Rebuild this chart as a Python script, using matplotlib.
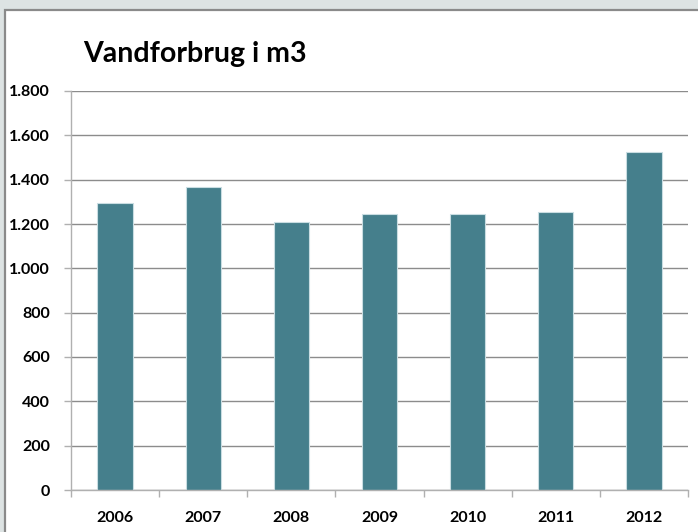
import matplotlib.pyplot as plt
from matplotlib.patches import Rectangle
from matplotlib.ticker import FixedLocator

# water use per year
years = ['2006', '2007', '2008', '2009', '2010', '2011', '2012']
water_m3 = [1294, 1365, 1208, 1247, 1247, 1252, 1526]
y_ticks = [0, 200, 400, 600, 800, 1000, 1200, 1400, 1600, 1800]
y_tick_labels = ['0', '200', '400', '600', '800', '1.000', '1.200', '1.400', '1.600', '1.800']

plt.rcParams['font.family'] = ['Lato', 'DejaVu Sans']

fig = plt.figure(figsize=(6.98, 5.32), dpi=100, facecolor='#dde3e3')

# white slide box with grey border, running off the right and bottom edge
frame = Rectangle((5 / 698, -0.05), 1.2, 1 - 10 / 532 + 0.05, transform=fig.transFigure,
                  facecolor='white', edgecolor='#8a8a8a', linewidth=1.6, zorder=-10)
fig.patches.append(frame)

# bottom of the cut off heading above the box
fig.text(199 / 698, 1 + 6 / 532, 'g', fontsize=28, fontweight='bold', color='black',
         va='baseline', ha='left')

ax = fig.add_axes([71 / 698, 1 - 490 / 532, 617 / 698, 399 / 532])
ax.set_facecolor('none')

x = list(range(len(years)))
ax.bar(x, water_m3, width=0.4, color='#457f8c', edgecolor='#c9dde2', linewidth=0.8, zorder=3)

ax.set_xlim(-0.5, len(years) - 0.5)
ax.set_ylim(0, 1800)
ax.set_yticks(y_ticks)
ax.set_yticklabels(y_tick_labels, fontsize=11.5, fontweight='bold')
ax.set_xticks(x)
ax.set_xticklabels(years, fontsize=11.5, fontweight='bold')
ax.xaxis.set_minor_locator(FixedLocator([i - 0.5 for i in range(len(years) + 1)]))

ax.tick_params(axis='x', which='major', length=0, pad=15)
ax.tick_params(axis='x', which='minor', length=5, color='#b0b0b0', width=1)
ax.tick_params(axis='y', length=5, color='#b0b0b0', width=1, pad=10)

ax.grid(axis='y', color='#8c8c8c', linewidth=1, zorder=1)
for s in ['top', 'right']:
    ax.spines[s].set_visible(False)
for s in ['left', 'bottom']:
    ax.spines[s].set_color('#b0b0b0')
    ax.spines[s].set_linewidth(1)
    ax.spines[s].set_zorder(4)

fig.text(83 / 698, 1 - 62 / 532, 'Vandforbrug i m3', fontsize=20.5, fontweight='bold',
         color='black', va='baseline', ha='left')

fig.savefig('out.png', dpi=100, facecolor=fig.get_facecolor())
